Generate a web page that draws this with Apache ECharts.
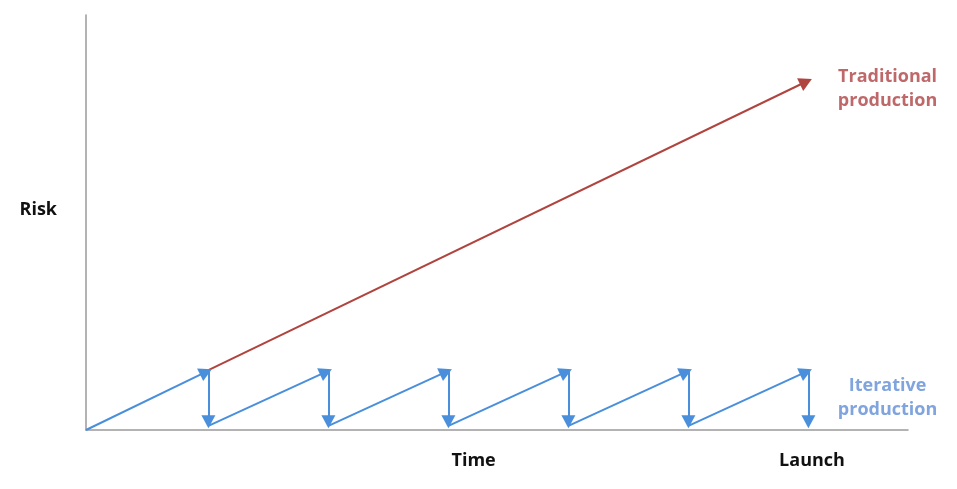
<!DOCTYPE html>
<html><head><meta charset="utf-8">
<script src="https://cdn.jsdelivr.net/npm/echarts@6/dist/echarts.min.js"></script>
<style>html,body{margin:0;padding:0;background:#fff}#c{width:957px;height:489px}</style>
</head><body><div id="c"></div>
<script>
// Data (time units, risk units)
const cycleStarts = [0, 1.02, 2.02, 3.02, 4.02, 5.02];
const cycleEnds = [1, 2, 3, 4, 5, 6];
const dropX = [1.02, 2.02, 3.02, 4.02, 5.02, 6.02];
const startRisk = [0, 0.07, 0.07, 0.07, 0.07, 0.07];
const peakRisk = [1, 1, 1, 1, 1, 1];
const dropRisk = [0.14, 0.14, 0.14, 0.14, 0.14, 0.14];
const traditionalLine = [[1.02, 1.03], [6, 6]];
const launchX = 6.05;
const launchSpan = [-0.14, 6.8];
const xTickValues = [3.23, 6.05];
const xTickLabels = ['Time', 'Launch'];
const yTickValues = [3.79];
const yTickLabels = ['Risk'];
const seriesLabels = [
  {text: 'Traditional\nproduction', x: 6.68, y: 5.87, color: '#ae4244'},
  {text: 'Iterative\nproduction', x: 6.68, y: 0.56, color: '#5f8dd6'}
];

const RED = '#b0443f', BLUE = '#4a8fdb';
const FONT = 'Open Sans';
const blueLines = [];
cycleStarts.forEach((s, i) => {
  blueLines.push([{coord: [s, startRisk[i]]}, {coord: [cycleEnds[i], peakRisk[i]]}]);
  blueLines.push([{coord: [dropX[i], peakRisk[i]]}, {coord: [dropX[i], dropRisk[i]]}]);
});
function nearestLabel(v, vals, labels) {
  let best = -1, d = 1e9;
  vals.forEach((x, i) => { if (Math.abs(x - v) < d) { d = Math.abs(x - v); best = i; } });
  return d < 0.01 ? labels[best] : '';
}
const chart = echarts.init(document.getElementById('c'));
chart.setOption({
  animation: false,
  grid: {left: 86, top: 15, right: 49, bottom: 59},
  xAxis: {
    type: 'value', min: 0, max: 6.85, splitLine: {show: false},
    axisLine: {lineStyle: {color: '#9a9a9a', width: 1.5}},
    axisTick: {show: false},
    axisLabel: {customValues: xTickValues, margin: 22, color: '#111',
      fontFamily: FONT, fontWeight: 'bold', fontSize: 18,
      formatter: v => nearestLabel(v, xTickValues, xTickLabels)}
  },
  yAxis: {
    type: 'value', min: 0, max: 7.15, splitLine: {show: false},
    axisLine: {show: true, lineStyle: {color: '#9a9a9a', width: 1.5}},
    axisTick: {show: false},
    axisLabel: {customValues: yTickValues, margin: 29, color: '#111',
      fontFamily: FONT, fontWeight: 'bold', fontSize: 18,
      formatter: v => nearestLabel(v, yTickValues, yTickLabels)}
  },
  series: [
    {type: 'line', data: [], silent: true,
      markLine: {silent: true, symbol: ['none', 'none'], label: {show: false},
        lineStyle: {color: '#aaa', type: [5, 5], width: 1},
        data: [[{coord: [launchX, launchSpan[0]]}, {coord: [launchX, launchSpan[1]]}]]}},
    {type: 'line', data: [], silent: true,
      markLine: {silent: true, symbol: ['none', 'triangle'], symbolSize: [14, 13], label: {show: false},
        lineStyle: {color: RED, type: 'solid', width: 2}, emphasis: {disabled: true},
        data: [[{coord: traditionalLine[0]}, {coord: traditionalLine[1]}]]}},
    {type: 'line', data: [], silent: true,
      markLine: {silent: true, symbol: ['none', 'triangle'], symbolSize: [14, 13], label: {show: false},
        lineStyle: {color: BLUE, type: 'solid', width: 2}, emphasis: {disabled: true},
        data: blueLines}},
    {type: 'scatter', silent: true, symbolSize: 1, itemStyle: {color: 'rgba(0,0,0,0)'},
      data: seriesLabels.map(l => ({value: [l.x, l.y], label: {show: true, position: 'inside',
        formatter: l.text, color: l.color, fontFamily: FONT, fontWeight: 'bold', fontSize: 18,
        lineHeight: 24, align: 'center'}}))}
  ]
});
</script></body></html>
